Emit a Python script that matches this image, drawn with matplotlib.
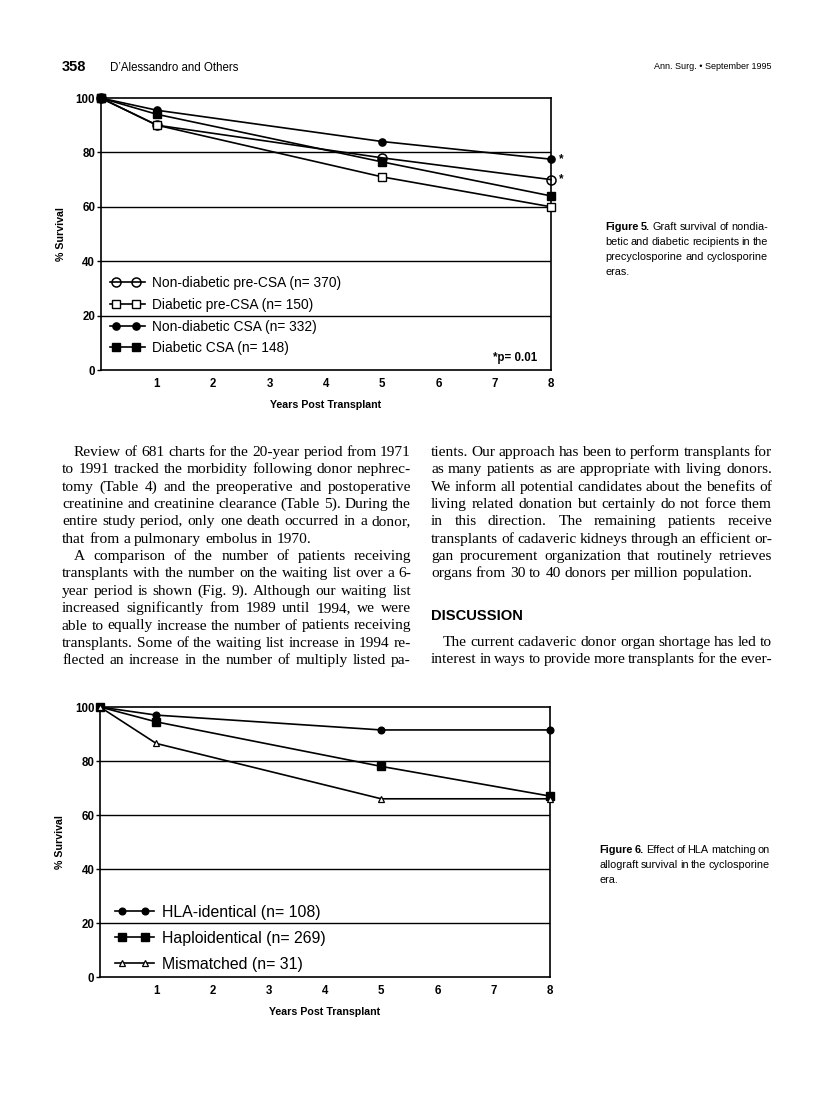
import numpy as np
import matplotlib
matplotlib.use("Agg")
import matplotlib.pyplot as plt
from matplotlib.font_manager import FontProperties
from matplotlib.legend_handler import HandlerLine2D
from matplotlib.lines import Line2D

W, H = 816, 1101

# ---- data ----
years = [0, 1, 5, 8]

nondiab_pre = [100, 90, 78, 70]
diab_pre = [100, 90, 71, 60]
nondiab_csa = [100, 95.5, 84, 77.5]
diab_csa = [100, 94, 76.5, 64]
fig5_labels = ["Non-diabetic pre-CSA (n= 370)", "Diabetic pre-CSA (n= 150)",
               "Non-diabetic CSA (n= 332)", "Diabetic CSA (n= 148)"]
fig5_signif = ["Non-diabetic CSA (n= 332)", "Non-diabetic pre-CSA (n= 370)"]

hla_identical = [100, 97, 91.5, 91.5]
haploidentical = [100, 94.5, 78, 67]
mismatched = [100, 86.5, 66, 66]
fig6_labels = ["HLA-identical (n= 108)", "Haploidentical (n= 269)", "Mismatched (n= 31)"]

yticks = [0, 20, 40, 60, 80, 100]
xticks = [1, 2, 3, 4, 5, 6, 7, 8]

left_col = [
    "Review of 681 charts for the 20-year period from 1971",
    "to 1991 tracked the morbidity following donor nephrec-",
    "tomy (Table 4) and the preoperative and postoperative",
    "creatinine and creatinine clearance (Table 5). During the",
    "entire study period, only one death occurred in a donor,",
    "that from a pulmonary embolus in 1970.",
    "A comparison of the number of patients receiving",
    "transplants with the number on the waiting list over a 6-",
    "year period is shown (Fig. 9). Although our waiting list",
    "increased significantly from 1989 until 1994, we were",
    "able to equally increase the number of patients receiving",
    "transplants. Some of the waiting list increase in 1994 re-",
    "flected an increase in the number of multiply listed pa-",
]
left_indent = [True, False, False, False, False, False, True, False, False, False, False, False, False]
left_last = [False, False, False, False, False, True, False, False, False, False, False, False, False]

right_col = [
    "tients. Our approach has been to perform transplants for",
    "as many patients as are appropriate with living donors.",
    "We inform all potential candidates about the benefits of",
    "living related donation but certainly do not force them",
    "in this direction. The remaining patients receive",
    "transplants of cadaveric kidneys through an efficient or-",
    "gan procurement organization that routinely retrieves",
    "organs from 30 to 40 donors per million population.",
]
right_last = [False] * 7 + [True]
disc_col = [
    "The current cadaveric donor organ shortage has led to",
    "interest in ways to provide more transplants for the ever-",
]

cap5 = ["Graft survival of nondia-", "betic and diabetic recipients in the",
        "precyclosporine and cyclosporine", "eras."]
cap6 = ["Effect of HLA matching on", "allograft survival in the cyclosporine", "era."]

fig = plt.figure(figsize=(W / 100, H / 100), dpi=100)
renderer = fig.canvas.get_renderer()


def fx(x):
    return x / W


def fy(y):
    return 1 - y / H


def tw(s, fp):
    w, h, d = renderer.get_text_width_height_descent(s, fp, ismath=False)
    return w


def put_line(words, x0, x1, y, fp, justify=True, first_fp=None, nfirst=0):
    # words placed one by one so the line can be justified
    fps = [first_fp if (i < nfirst and first_fp is not None) else fp for i in range(len(words))]
    widths = [tw(wd, f) for wd, f in zip(words, fps)]
    space = tw("a b", fp) - tw("ab", fp)
    if justify and len(words) > 1:
        gap = (x1 - x0 - sum(widths)) / (len(words) - 1)
    else:
        gap = space
    x = x0
    for i, (wd, f) in enumerate(zip(words, fps)):
        g = gap
        if i > 0 and i == nfirst and first_fp is not None and not justify:
            g = space * 2
        if i > 0:
            x += g
        fig.text(fx(x), fy(y), wd, fontproperties=f, va="baseline", ha="left")
        x += widths[i]


# ---- header ----
fig.text(fx(62), fy(71), "358", fontproperties=FontProperties(family="Liberation Sans", weight="bold", size=10.5))
fig.text(fx(110), fy(71), "D\u2019Alessandro and Others", fontproperties=FontProperties(family="Liberation Sans", size=8.3))
fig.text(fx(772), fy(69), "Ann. Surg. \u2022 September 1995", ha="right",
         fontproperties=FontProperties(family="Liberation Sans", size=6.5))

# ---- body text ----
body = FontProperties(family="Liberation Serif", size=11.1)
lx0, lx1 = 62, 411
rx0, rx1 = 431, 772
for i, line in enumerate(left_col):
    x0 = lx0 + (12 if left_indent[i] else 0)
    put_line(line.split(), x0, lx1, 456 + i * 17.35, body, justify=not left_last[i])
for i, line in enumerate(right_col):
    put_line(line.split(), rx0, rx1, 456 + i * 17.35, body, justify=not right_last[i])
fig.text(fx(rx0), fy(620), "DISCUSSION", fontproperties=FontProperties(family="Liberation Sans", weight="bold", size=10.6))
put_line(disc_col[0].split(), rx0 + 12, rx1, 646, body)
put_line(disc_col[1].split(), rx0, rx1, 663, body)

# ---- captions ----
capfp = FontProperties(family="Liberation Sans", size=7.8)
capb = FontProperties(family="Liberation Sans", size=7.8, weight="bold")
lines5 = ["Figure 5.  " + cap5[0]] + cap5[1:]
for i, line in enumerate(lines5):
    put_line(line.split(), 605, 768, 230 + i * 15, capfp, justify=(i < len(lines5) - 1),
             first_fp=capb if i == 0 else None, nfirst=2 if i == 0 else 0)
lines6 = ["Figure 6.  " + cap6[0]] + cap6[1:]
for i, line in enumerate(lines6):
    put_line(line.split(), 599, 770, 853 + i * 15, capfp, justify=(i < len(lines6) - 1),
             first_fp=capb if i == 0 else None, nfirst=2 if i == 0 else 0)


class SpacedMarkers(HandlerLine2D):
    # line runs past the two markers, like -o-o-
    def create_artists(self, legend, orig_handle, xdescent, ydescent, width, height, fontsize, trans):
        x0 = -xdescent
        xdata = np.array([x0, x0 + 0.17 * width, x0 + 0.75 * width, x0 + width])
        ydata = np.full_like(xdata, (height - ydescent) / 2)
        legline = Line2D(xdata, ydata)
        self.update_prop(legline, orig_handle, legend)
        legline.set_markevery([1, 2])
        legline.set_transform(trans)
        return [legline]


tickfp = FontProperties(family="Liberation Sans", weight="bold", size=8.3)
labfp = FontProperties(family="Liberation Sans", weight="bold", size=7.7)


def style_axes(ax):
    ax.set_xlim(0, 8)
    ax.set_ylim(0, 100)
    ax.set_yticks(yticks)
    ax.set_xticks(xticks)
    for s in ax.spines.values():
        s.set_linewidth(1.2)
        s.set_color("black")
    for v in yticks[1:-1]:
        ax.axhline(v, color="black", lw=1.0, zorder=1)
    ax.tick_params(axis="y", length=3, width=1, pad=1)
    ax.tick_params(axis="x", length=0, pad=6)
    for lab in ax.get_xticklabels() + ax.get_yticklabels():
        lab.set_fontproperties(tickfp)
    ax.set_xlabel("Years Post Transplant", fontproperties=labfp)
    ax.set_ylabel("% Survival", fontproperties=labfp)
    ax.yaxis.set_label_coords(-0.077, 0.5)
    ax.xaxis.set_label_coords(0.5, -0.112)


# ---- Figure 5 ----
ax1 = fig.add_axes([fx(100.7), fy(370), (551 - 100.7) / W, 272 / H])
lk = dict(color="black", lw=1.2, zorder=3, clip_on=False)
h1, = ax1.plot(years, nondiab_pre, marker="o", ms=6.5, mfc="none", mew=1.1, **lk)
h2, = ax1.plot(years, diab_pre, marker="s", ms=6.3, mfc="white", mew=1.0, **lk)
h3, = ax1.plot(years, nondiab_csa, marker="o", ms=5.2, mfc="black", **lk)
h4, = ax1.plot(years, diab_csa, marker="s", ms=6.3, mfc="black", **lk)
style_axes(ax1)
for lab, ser in zip(fig5_labels, [nondiab_pre, diab_pre, nondiab_csa, diab_csa]):
    if lab in fig5_signif:
        ax1.text(years[-1] + 0.14, ser[-1], "*", fontproperties=tickfp, va="center", ha="left", clip_on=False)
ax1.text(0.97, 0.045, "*p= 0.01", transform=ax1.transAxes, ha="right", va="center",
         fontproperties=FontProperties(family="Liberation Sans", weight="bold", size=8.3))
ax1.legend([h1, h2, h3, h4], fig5_labels, loc="upper left", bbox_to_anchor=(0.021, 0.345),
           frameon=False, borderpad=0, borderaxespad=0, handlelength=2.5, handletextpad=0.55,
           labelspacing=0.56, numpoints=2, handler_map={Line2D: SpacedMarkers()},
           prop=FontProperties(family="Liberation Sans", size=9.9))

# ---- Figure 6 ----
ax2 = fig.add_axes([fx(100), fy(977), 450 / W, 270 / H])
g1, = ax2.plot(years, hla_identical, marker="o", ms=4.8, mfc="black", **lk)
g2, = ax2.plot(years, haploidentical, marker="s", ms=6.3, mfc="black", **lk)
g3, = ax2.plot(years, mismatched, marker="^", ms=5.0, mfc="white", mew=0.9, **lk)
style_axes(ax2)
ax2.legend([g1, g2, g3], fig6_labels, loc="upper left", bbox_to_anchor=(0.033, 0.268),
           frameon=False, borderpad=0, borderaxespad=0, handlelength=2.5, handletextpad=0.5,
           labelspacing=0.7, numpoints=2, handler_map={Line2D: SpacedMarkers()},
           prop=FontProperties(family="Liberation Sans", size=11.4))

fig.savefig("out.png", dpi=100)
